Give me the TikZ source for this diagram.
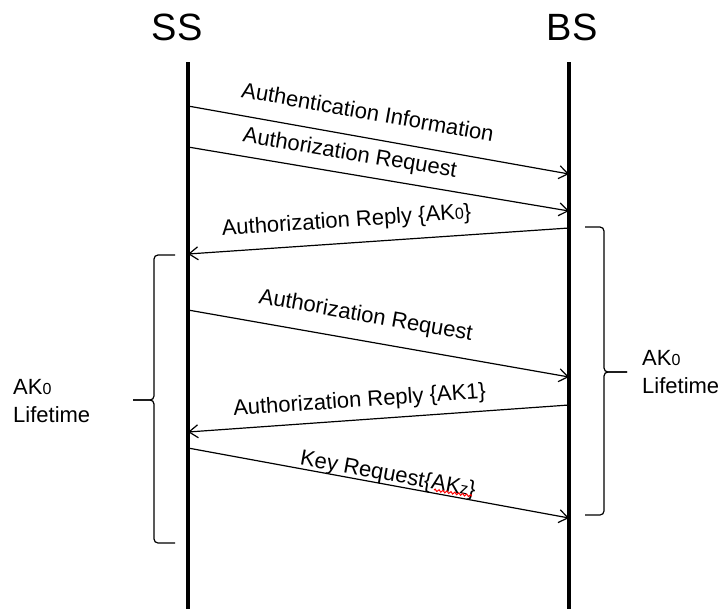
\documentclass[tikz,border=0pt]{standalone}
\usepackage{fontspec}
\setmainfont{Liberation Sans}
\usetikzlibrary{arrows.meta,decorations.pathmorphing}
\newcommand{\smalldig}[1]{{\fontsize{16}{16}\selectfont #1}}
\begin{document}
\begin{tikzpicture}[x=1pt,y=-1pt,
  lifeline/.style={line width=3.2pt},
  msg/.style={line width=1.2pt,-{Straight Barb[length=9pt,width=13pt,line width=1.2pt]}},
  lbl/.style={sloped,anchor=south,inner sep=0pt,text depth=0pt,outer ysep=#1,font=\fontsize{22}{26}\selectfont},
  actor/.style={font=\fontsize{38}{40}\selectfont,inner sep=0pt},
  bracepath/.style={line width=1.2pt,rounded corners=4pt},
  note/.style={font=\fontsize{22}{28}\selectfont,align=left,inner sep=0pt,anchor=west}]
\fill[white] (0,0) rectangle (721,614);
\useasboundingbox (0,0) rectangle (721,614);

\node[actor] (SS) at (177,27) {SS};
\node[actor] (BS) at (572,27) {BS};

\coordinate (ssT) at (188,62);
\coordinate (ssB) at (188,609);
\coordinate (bsT) at (569,62);
\coordinate (bsB) at (569,609);
\draw[lifeline] (ssT) -- (ssB);
\draw[lifeline] (bsT) -- (bsB);

\coordinate (s1) at (188,106); \coordinate (b1) at (569,174);
\coordinate (s2) at (188,147); \coordinate (b2) at (569,211);
\coordinate (b3) at (569,228); \coordinate (s3) at (188,254);
\coordinate (s4) at (188,310); \coordinate (b4) at (569,377);
\coordinate (b5) at (569,405); \coordinate (s5) at (188,432);
\coordinate (s6) at (188,448); \coordinate (b6) at (569,518);

\draw[msg] (s1) -- node[lbl=18pt,pos=0.46] (m1) {Authentication Information} (b1);
\draw[msg] (s2) -- node[lbl=14pt,pos=0.416] (m2) {Authorization Request} (b2);
\draw[msg] (b3) -- node[lbl=16pt,pos=0.58] (m3) {Authorization Reply \{AK\smalldig{0}\}} (s3);
\draw[msg] (s4) -- node[lbl=19pt,pos=0.455] (m4) {Authorization Request} (b4);
\draw[msg] (b5) -- node[lbl=13pt,pos=0.546] (m5) {Authorization Reply \{AK1\}} (s5);
\draw[msg] (s6) -- node[lbl=4pt,pos=0.52] (m6) {Key Request\{AK\smalldig{z}\}} (b6);

\draw[red,line width=1pt,decorate,decoration={zigzag,amplitude=1.1pt,segment length=4pt}] (434,490) -- (472,496);

% left brace
\draw[bracepath] (175,255) -- (154,255) -- (154,400) -- (133,400);
\draw[bracepath] (175,543) -- (154,543) -- (154,400) -- (133,400);
\node[note] (lt1) at (13,401) {AK\smalldig{0}\\Lifetime};

% right brace
\draw[bracepath] (585,227) -- (604,227) -- (604,372) -- (627,372);
\draw[bracepath] (585,515) -- (604,515) -- (604,372) -- (627,372);
\node[note] (lt2) at (642,372) {AK\smalldig{0}\\Lifetime};
\end{tikzpicture}
\end{document}
